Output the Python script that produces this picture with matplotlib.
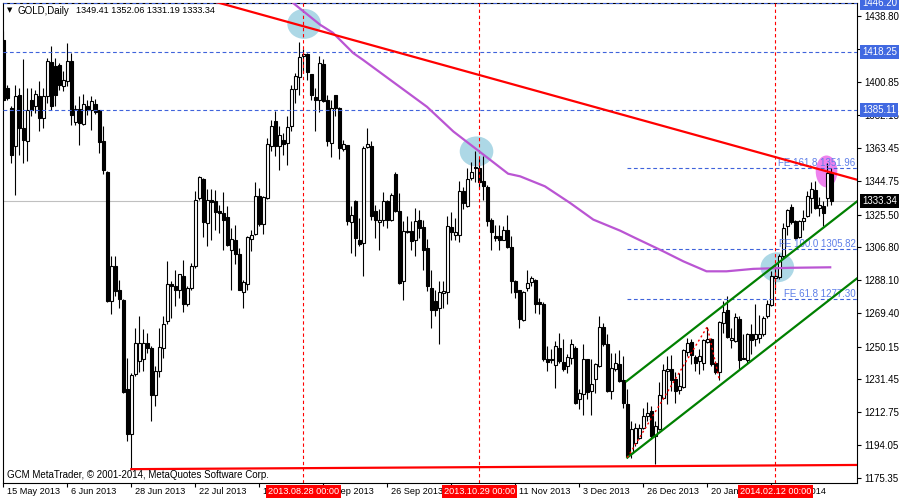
import matplotlib
matplotlib.use("Agg")
import matplotlib.pyplot as plt
from matplotlib.patches import Ellipse
import numpy as np

plt.rcParams['font.family'] = ['Liberation Sans', 'DejaVu Sans']

# ---------------- data (GOLD daily) ----------------
opens = [
1425.2,1397.7,1386.3,1364.4,1393.9,1374.9,1367.3,1390.6,1387.6,1392.9,
1380.6,1392.9,1412.5,1410.0,1411.0,1399.0,1401.5,1412.9,1378.1,1385.7,
1377.3,1387.6,1385.3,1388.7,1384.9,1367.3,1349.8,1276.1,1296.4,1282.3,
1277.0,1225.7,1200.1,1234.3,1241.9,1243.2,1252.3,1249.5,1222.3,1236.2,
1249.5,1264.7,1285.6,1285.0,1282.7,1290.3,1274.2,1283.7,1296.0,1334.9,
1345.8,1320.7,1333.6,1333.4,1327.4,1326.4,1324.1,1305.1,1311.2,1302.7,
1281.2,1285.9,1311.6,1314.4,1335.9,1320.3,1334.9,1364.4,1378.7,1364.4,
1368.2,1366.3,1375.8,1397.1,1403.9,1416.1,1417.2,1405.8,1392.5,1391.0,
1411.5,1391.0,1366.3,1393.5,1386.3,1362.9,1365.4,1321.1,1333.1,1311.2,
1309.3,1364.0,1364.8,1327.4,1321.1,1322.2,1333.1,1322.6,1348.8,1327.4,
1287.5,1316.3,1316.3,1311.2,1322.6,1318.4,1306.5,1283.7,1276.1,1272.3,
1280.8,1281.2,1318.4,1313.7,1314.1,1338.8,1330.2,1346.4,1352.6,1352.1,
1344.5,1341.2,1322.2,1313.5,1313.1,1311.2,1316.9,1307.0,1287.8,1282.3,
1265.2,1283.7,1286.9,1288.4,1275.5,1274.2,1243.2,1243.2,1239.4,1249.5,
1241.3,1239.0,1243.8,1249.5,1220.0,1222.9,1242.8,1224.8,1231.4,1239.0,
1261.4,1251.9,1224.8,1237.1,1240.0,1231.0,1217.2,1189.6,1195.3,1198.2,
1203.9,1210.5,1213.4,1199.1,1202.9,1221.0,1236.2,1237.5,1231.4,1225.3,
1227.2,1247.0,1252.7,1244.3,1241.9,1240.9,1252.7,1254.6,1240.9,1235.6,
1263.7,1270.9,1253.8,1253.3,1266.0,1243.8,1242.4,1257.1,1254.2,1255.2,
1257.1,1267.5,1273.6,1289.4,1289.9,1301.7,1318.8,1329.8,1321.7,1312.7,
1321.7,1324.5,1334.9,1339.7,1329.3,1330.6,1334.9,1349.41]

highs = [
1430.0,1399.6,1387.2,1399.6,1397.7,1414.2,1397.7,1397.7,1396.7,1401.5,
1397.7,1414.8,1421.4,1414.8,1411.9,1407.2,1423.3,1417.6,1388.2,1392.9,
1394.4,1390.6,1392.9,1391.6,1385.3,1376.2,1350.2,1301.7,1301.7,1288.4,
1277.4,1243.8,1235.2,1260.9,1267.5,1259.9,1258.0,1250.4,1239.0,1260.9,
1267.5,1298.9,1287.5,1293.7,1291.8,1299.8,1284.6,1297.9,1339.1,1347.3,
1346.4,1340.3,1340.3,1339.7,1331.2,1338.2,1330.6,1317.9,1319.8,1306.5,
1288.4,1313.5,1316.9,1343.9,1340.7,1335.9,1369.2,1379.2,1384.4,1375.8,
1372.0,1381.5,1399.6,1406.2,1423.7,1419.9,1417.6,1405.8,1397.7,1415.7,
1414.2,1393.9,1391.0,1393.9,1386.8,1368.2,1365.4,1330.6,1334.0,1323.6,
1364.4,1374.9,1367.3,1331.2,1328.7,1338.2,1334.0,1337.8,1349.6,1337.8,
1321.7,1324.5,1321.7,1329.3,1328.3,1322.6,1311.6,1294.1,1282.7,1287.5,
1287.5,1324.5,1326.8,1323.6,1344.5,1341.2,1352.1,1355.3,1361.6,1357.8,
1359.1,1342.6,1323.6,1319.8,1319.8,1319.2,1325.5,1313.5,1288.4,1282.7,
1281.8,1293.7,1290.7,1288.8,1278.0,1275.5,1250.4,1248.5,1253.3,1258.0,
1254.2,1245.7,1254.2,1250.4,1225.7,1251.4,1243.2,1242.8,1240.9,1267.5,
1263.7,1257.1,1246.6,1246.2,1248.1,1244.7,1225.7,1207.7,1206.7,1205.8,
1215.3,1218.5,1216.2,1207.7,1229.9,1240.0,1244.7,1245.1,1235.6,1235.2,
1248.9,1255.2,1254.2,1245.1,1248.5,1254.6,1261.5,1255.2,1241.9,1264.7,
1276.1,1278.9,1260.9,1269.4,1267.5,1257.1,1258.0,1262.8,1274.2,1267.9,
1267.5,1277.0,1293.2,1296.0,1302.7,1320.7,1328.7,1331.7,1322.6,1322.6,
1328.3,1338.8,1343.9,1344.5,1335.5,1333.1,1354.9,1352.06]

lows = [
1390.1,1391.0,1354.9,1336.9,1359.7,1354.9,1355.9,1381.5,1383.4,1373.0,
1374.9,1389.1,1385.3,1387.6,1396.7,1395.8,1398.6,1376.8,1376.8,1365.4,
1376.8,1382.5,1373.9,1383.0,1360.6,1348.8,1275.5,1268.5,1278.9,1272.3,
1223.8,1196.3,1180.1,1233.3,1235.6,1236.2,1246.6,1207.7,1216.2,1232.7,
1243.8,1263.3,1266.6,1273.2,1277.9,1269.8,1273.2,1282.7,1295.1,1334.0,
1312.7,1307.8,1311.2,1316.9,1315.0,1305.5,1307.8,1282.7,1297.0,1282.3,
1272.3,1282.7,1304.6,1314.1,1319.2,1314.4,1334.6,1361.6,1358.7,1351.1,
1359.7,1354.0,1373.0,1389.1,1393.9,1406.2,1402.4,1391.0,1373.0,1383.8,
1389.5,1364.4,1358.3,1381.5,1357.2,1361.6,1319.8,1303.6,1302.1,1307.4,
1290.7,1363.5,1322.6,1312.2,1305.5,1318.8,1317.9,1321.7,1326.8,1285.6,
1277.0,1315.0,1305.5,1301.7,1312.2,1294.1,1281.8,1260.9,1267.5,1251.4,
1272.3,1274.2,1311.2,1311.2,1309.7,1328.7,1329.8,1345.4,1343.9,1340.7,
1334.0,1318.8,1305.5,1310.3,1305.1,1310.8,1306.5,1280.8,1277.9,1260.9,
1264.7,1281.8,1285.0,1269.4,1268.5,1241.9,1236.2,1240.9,1226.7,1240.9,
1236.2,1235.2,1240.0,1217.2,1214.3,1210.9,1220.0,1210.9,1223.8,1238.6,
1250.4,1224.2,1220.0,1236.2,1229.9,1215.3,1186.8,1186.8,1193.4,1197.2,
1202.9,1207.7,1197.2,1182.9,1202.5,1220.0,1217.2,1224.8,1218.1,1222.9,
1226.7,1244.7,1240.0,1236.2,1234.3,1236.7,1252.3,1239.0,1234.3,1231.2,
1258.0,1255.2,1249.5,1252.7,1237.1,1242.8,1240.0,1245.7,1250.4,1252.3,
1256.1,1266.6,1273.2,1282.7,1288.8,1300.2,1314.1,1320.3,1311.6,1312.2,
1316.9,1324.1,1326.4,1328.7,1324.9,1318.8,1330.2,1331.19]

closes = [
1391.0,1391.9,1359.7,1392.9,1374.9,1368.2,1385.3,1385.3,1394.4,1380.6,
1392.9,1413.2,1387.2,1393.9,1399.6,1402.4,1412.9,1382.5,1385.7,1377.7,
1388.5,1385.3,1390.1,1383.8,1366.7,1350.7,1276.1,1296.0,1281.8,1277.4,
1224.2,1200.1,1233.7,1252.3,1252.3,1252.3,1249.5,1222.5,1236.2,1250.0,
1262.8,1285.6,1284.6,1282.7,1291.3,1274.2,1283.7,1296.0,1334.0,1346.7,
1321.1,1334.0,1332.5,1327.0,1326.4,1322.6,1308.4,1311.6,1302.7,1282.7,
1286.9,1312.7,1314.1,1336.3,1320.3,1335.5,1365.7,1375.8,1364.4,1371.1,
1365.9,1375.4,1397.1,1404.3,1415.3,1417.2,1406.6,1393.9,1391.0,1411.9,
1390.1,1367.3,1386.3,1386.3,1363.5,1365.7,1321.7,1325.5,1312.2,1308.9,
1363.5,1365.9,1324.9,1322.6,1322.6,1333.1,1322.6,1336.9,1327.4,1286.5,
1315.9,1315.6,1310.3,1321.7,1317.9,1305.1,1285.0,1271.3,1271.3,1281.2,
1281.8,1319.2,1315.6,1315.6,1338.8,1332.1,1345.8,1349.6,1351.9,1343.9,
1341.6,1321.7,1315.4,1312.3,1310.8,1316.9,1307.0,1287.5,1281.2,1266.0,
1281.2,1286.5,1289.4,1274.7,1274.7,1242.8,1241.3,1242.4,1250.4,1241.9,
1237.1,1244.3,1251.4,1218.1,1223.4,1242.8,1224.2,1228.6,1240.0,1261.4,
1251.4,1224.8,1238.1,1240.5,1230.5,1218.1,1187.7,1202.9,1203.9,1203.9,
1210.5,1212.4,1199.1,1204.8,1222.3,1236.7,1237.1,1231.0,1224.8,1227.6,
1248.1,1252.3,1245.1,1240.9,1244.7,1253.8,1254.2,1240.0,1235.6,1264.1,
1269.8,1255.7,1255.2,1267.1,1242.4,1243.2,1257.1,1253.8,1257.1,1257.1,
1266.6,1274.2,1290.7,1290.7,1302.1,1317.9,1328.3,1321.1,1312.2,1322.0,
1323.6,1335.9,1340.1,1329.3,1331.2,1326.4,1349.2,1333.34]

date_tick_idx = [0, 16, 32, 48, 64, 80, 96, 112, 128, 144, 160, 176, 192]
date_labels = ["15 May 2013", "6 Jun 2013", "28 Jun 2013", "22 Jul 2013",
               "13 Aug 2013", "4 Sep 2013", "26 Sep 2013", "18 Oct 2013",
               "11 Nov 2013", "3 Dec 2013", "26 Dec 2013", "20 Jan 2014",
               "11 Feb 2014"]

ytick_vals = [1438.80, 1420.10, 1400.85, 1382.15, 1363.45, 1344.75, 1325.50,
              1306.80, 1288.10, 1269.40, 1250.15, 1231.45, 1212.75, 1194.05,
              1175.35]
ytick_labels = ["1438.80", "1420.10", "1400.85", "1382.15", "1363.45",
                "1344.75", "1325.50", "1306.80", "1288.10", "1269.40",
                "1250.15", "1231.45", "1212.75", "1194.05", "1175.35"]

hlevels = [1446.20, 1418.25, 1385.11]
hlevel_labels = ["1446.20", "1418.25", "1385.11"]
last_price = 1333.34
header_values = "1349.41 1352.06 1331.19 1333.34"

fe_levels = [1351.96, 1305.82, 1277.30]
fe_names = ["FE 161.8 1351.96", "FE 100.0 1305.82", "FE 61.8 1277.30"]
fe_start = 156

zigzag_x = [156, 176, 179]
zigzag_y = [1186.8, 1261.5, 1231.2]

trend_x = [40, 214]
trend_y = [1455.1, 1345.0]
support_x = [32, 214]
support_y = [1180.2, 1182.6]
chan_up_x = [155.8, 214]
chan_up_y = [1230.4, 1334.0]
chan_lo_x = [156.0, 214]
chan_lo_y = [1186.8, 1290.1]

ma_x = [70.0, 72.5, 79.2, 82.4, 87.5, 89.9, 96.7, 105.9, 112.5, 119.0, 126.2,
        129.2, 135.4, 141.7, 147.5, 154.2, 157.9, 165.0, 170.0, 175.8, 180.8,
        187.5, 196.7, 207.0]
ma_y = [1450.7, 1446.1, 1433.8, 1429.2, 1417.6, 1413.8, 1402.4, 1387.0, 1372.9,
        1361.5, 1348.8, 1347.3, 1341.6, 1332.1, 1322.6, 1316.3, 1312.2, 1304.5,
        1298.8, 1293.1, 1293.1, 1294.5, 1295.1, 1295.4]

vline_idx = [75, 119, 193]
vline_labels = ["2013.08.28 00:00", "2013.10.29 00:00", "2014.02.12 00:00"]

blue_circles_x = [75.2, 118.3, 193.5]
blue_circles_y = [1434.3, 1361.5, 1295.4]
pink_circle_x = [205.8]
pink_circle_y = [1350.1]

# ---------------- figure ----------------
W, H = 900, 500
fig = plt.figure(figsize=(9, 5), dpi=100)
ax = fig.add_axes([2.5 / W, 17 / H, 854.5 / W, 480.5 / H])
ax.set_xlim(-0.21, 213.42)
ax.set_ylim(1172.3, 1446.5)

o = np.array(opens); hi = np.array(highs); lo = np.array(lows); c = np.array(closes)
idx = np.arange(len(o))
up = c >= o

# background ellipses
for ex, ey in zip(blue_circles_x, blue_circles_y):
    ax.add_patch(Ellipse((ex, ey), 8.4, 17.1, facecolor='#ADD8E6', edgecolor='none', zorder=1))
for ex, ey in zip(pink_circle_x, pink_circle_y):
    ax.add_patch(Ellipse((ex, ey), 5.4, 18.2, facecolor='#EE82EE', edgecolor='none', zorder=1))

# bid line
ax.axhline(last_price, color='#C0C0C0', lw=0.8, zorder=1.5)

# candles
ax.vlines(idx, lo, hi, color='black', lw=0.8, zorder=3)
bb = np.minimum(o, c)
bh = np.maximum(np.abs(c - o), 0.45)
ax.bar(idx[up], bh[up], bottom=bb[up], width=0.68, color='white',
       edgecolor='black', linewidth=0.8, zorder=4)
ax.bar(idx[~up], bh[~up], bottom=bb[~up], width=0.68, color='black',
       edgecolor='black', linewidth=0.8, zorder=4)

# horizontal dashed levels
dash = (0, (3.4, 2.4))
for lv in hlevels:
    ax.axhline(lv, color='#3F63DB', lw=0.8, ls=dash, zorder=5)
for lv, name in zip(fe_levels, fe_names):
    ax.plot([fe_start, 214], [lv, lv], color='#3F63DB', lw=0.8, ls=dash, zorder=5)
    ax.text(213.1, lv + 1.4, name, ha='right', va='baseline', fontsize=7,
            color='#5E7FE8', zorder=5)

# vertical dashed red lines
for vx in vline_idx:
    ax.axvline(vx, color='#FF0000', lw=0.8, ls=(0, (3, 2.5)), zorder=5)

# indicator / objects
ax.plot(ma_x, ma_y, color='#BA55D3', lw=1.6, zorder=5, solid_capstyle='butt')
ax.plot(trend_x, trend_y, color='#FF0000', lw=1.6, zorder=6)
ax.plot(support_x, support_y, color='#FF0000', lw=1.6, zorder=6)
ax.plot(chan_up_x, chan_up_y, color='#008000', lw=1.6, zorder=6)
ax.plot(chan_lo_x, chan_lo_y, color='#008000', lw=1.6, zorder=6)
ax.plot(zigzag_x, zigzag_y, color='#FF0000', lw=1.0, ls=(0, (1.5, 2.0)), zorder=6)

# axes styling
for s in ax.spines.values():
    s.set_color('black'); s.set_linewidth(0.8)
ax.yaxis.tick_right()
ax.set_yticks(ytick_vals)
ax.set_yticklabels(ytick_labels)
ax.tick_params(axis='y', direction='out', length=3, width=0.8, pad=2,
               labelsize=7, colors='black')
ax.set_xticks(date_tick_idx)
ax.set_xticklabels([''] * len(date_tick_idx))
ax.tick_params(axis='x', direction='out', length=3, width=0.8)

xt = ax.get_xaxis_transform()
for ti, lab in zip(date_tick_idx, date_labels):
    ax.text(ti + 0.8, -0.0175, lab, transform=xt, ha='left', va='center',
            fontsize=6.6, color='black', clip_on=False)
for vx, lab in zip(vline_idx, vline_labels):
    ax.text(vx, -0.0175, lab, transform=xt, ha='center', va='center',
            fontsize=6.6, color='white', clip_on=False, zorder=10,
            bbox=dict(boxstyle='square,pad=0.22', fc='#FF0000', ec='none'))

yt = ax.get_yaxis_transform()
for lv, lab in zip(hlevels, hlevel_labels):
    ax.text(1.0058, lv, lab, transform=yt, ha='left', va='center', fontsize=7,
            color='white', clip_on=False, zorder=10,
            bbox=dict(boxstyle='square,pad=0.2', fc='#4169E1', ec='none'))
ax.text(1.0058, last_price, f"{last_price:.2f}", transform=yt, ha='left',
        va='center', fontsize=7, color='white', clip_on=False, zorder=10,
        bbox=dict(boxstyle='square,pad=0.2', fc='black', ec='none'))

# header and footer text
fig.text(7 / W, 1 - 10.5 / H, "\u25BC", fontsize=5, color='black', va='center',
         family=['DejaVu Sans'])
fig.text(18 / W, 1 - 10.5 / H, "GOLD,Daily", fontsize=7, color='black', va='center')
fig.text(76 / W, 1 - 10.5 / H, header_values, fontsize=6.6, color='black', va='center')
fig.text(7 / W, 1 - 475 / H, "GCM MetaTrader, \u00A9 2001-2014, MetaQuotes Software Corp.",
         fontsize=7, color='black', va='center')

fig.savefig("out.png", dpi=100)
